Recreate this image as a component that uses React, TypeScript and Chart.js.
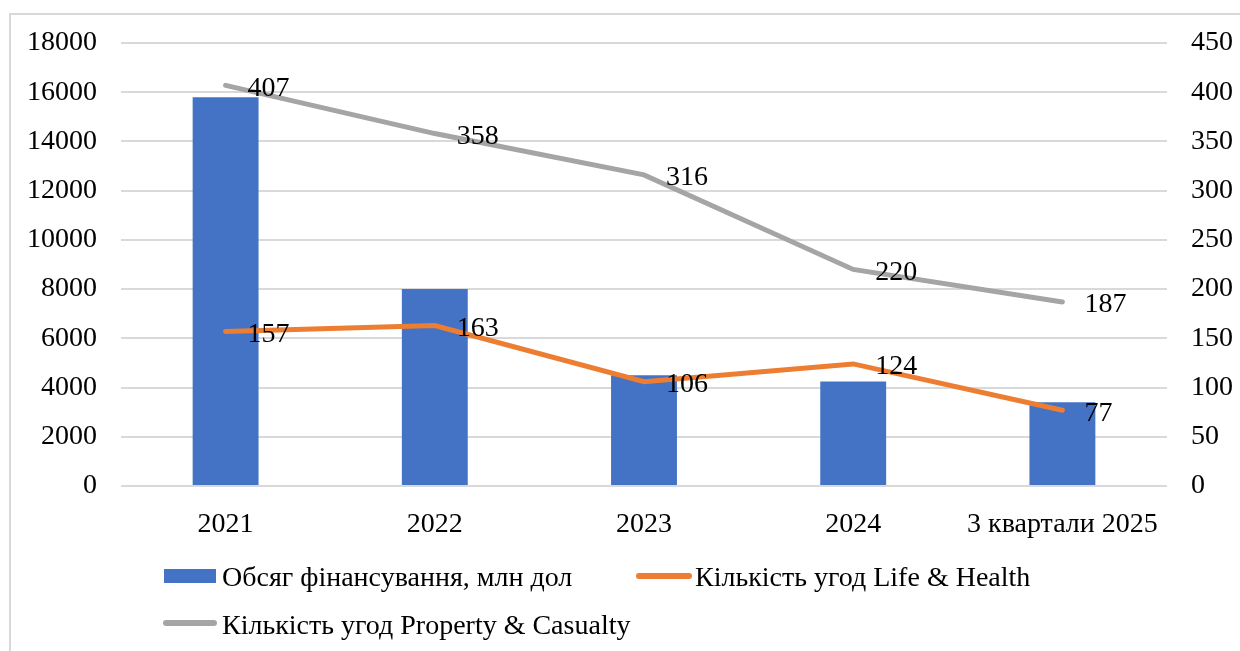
import React, { useEffect, useRef } from "react";
import { Chart, registerables } from "chart.js";

Chart.register(...registerables);

const categories = ["2021", "2022", "2023", "2024", "3 квартали 2025"];
const fundingValues = [15800, 8000, 4500, 4250, 3400];
const lifeHealthDeals = [157, 163, 106, 124, 77];
const propertyCasualtyDeals = [407, 358, 316, 220, 187];
const leftTicks = { min: 0, max: 18000, step: 2000 };
const rightTicks = { min: 0, max: 450, step: 50 };

const seriesNames = [
  "Обсяг фінансування, млн дол",
  "Кількість угод Life & Health",
  "Кількість угод Property & Casualty",
];

const FONT = "'Liberation Serif', 'Times New Roman', serif";
const FS = 28;
const BLUE = "#4472C4";
const ORANGE = "#ED7D31";
const GRAY = "#A5A5A5";

const labelPlugin = {
  id: "lineLabels",
  afterDatasetsDraw(chart: any) {
    const ctx = chart.ctx;
    ctx.save();
    ctx.font = `${FS}px ${FONT}`;
    ctx.fillStyle = "#000";
    ctx.textAlign = "left";
    ctx.textBaseline = "middle";
    chart.data.datasets.forEach((ds: any, i: number) => {
      if (ds.type !== "line") return;
      const meta = chart.getDatasetMeta(i);
      meta.data.forEach((pt: any, j: number) => {
        ctx.fillText(String(ds.data[j]), pt.x + 22, pt.y + 3);
      });
    });
    ctx.restore();
  },
};

export default function App() {
  const ref = useRef<HTMLCanvasElement>(null);
  useEffect(() => {
    if (!ref.current) return;
    const chart = new Chart(ref.current, {
      type: "bar",
      data: {
        labels: categories,
        datasets: [
          {
            type: "bar",
            label: seriesNames[0],
            data: fundingValues,
            backgroundColor: BLUE,
            yAxisID: "y",
            order: 3,
            categoryPercentage: 1,
            barPercentage: 0.315,
          },
          {
            type: "line",
            label: seriesNames[1],
            data: lifeHealthDeals,
            borderColor: ORANGE,
            backgroundColor: ORANGE,
            borderWidth: 5,
            pointRadius: 0,
            yAxisID: "y1",
            order: 1,
            borderCapStyle: "round",
          },
          {
            type: "line",
            label: seriesNames[2],
            data: propertyCasualtyDeals,
            borderColor: GRAY,
            backgroundColor: GRAY,
            borderWidth: 5,
            pointRadius: 0,
            yAxisID: "y1",
            order: 2,
            borderCapStyle: "round",
          },
        ] as any,
      },
      options: {
        responsive: false,
        animation: false,
        layout: { padding: { top: 43, left: 0, right: 0, bottom: 0 } },
        plugins: { legend: { display: false }, tooltip: { enabled: false } },
        scales: {
          x: {
            grid: { display: false },
            border: { display: false },
            ticks: { color: "#000", font: { family: FONT, size: FS }, padding: 14, maxRotation: 0 },
            afterFit: (s: any) => { s.height = 165; },
          },
          y: {
            position: "left",
            min: leftTicks.min,
            max: leftTicks.max,
            ticks: {
              stepSize: leftTicks.step,
              color: "#000",
              font: { family: FONT, size: FS },
              padding: 24,
              callback: (v: any) => String(v),
            },
            grid: { color: "#D9D9D9", lineWidth: 2, drawTicks: false },
            border: { display: false },
            afterFit: (s: any) => { s.width = 121; },
          },
          y1: {
            position: "right",
            min: rightTicks.min,
            max: rightTicks.max,
            ticks: {
              stepSize: rightTicks.step,
              color: "#000",
              font: { family: FONT, size: FS },
              padding: 24,
              callback: (v: any) => String(v),
            },
            grid: { display: false, drawTicks: false },
            border: { display: false },
            afterFit: (s: any) => { s.width = 73; },
          },
        },
      } as any,
      plugins: [labelPlugin],
    });
    return () => chart.destroy();
  }, []);

  const textStyle: React.CSSProperties = {
    position: "absolute",
    fontFamily: FONT,
    fontSize: FS,
    lineHeight: "30px",
    color: "#000",
    whiteSpace: "nowrap",
  };

  return (
    <div style={{ position: "absolute", left: 0, top: 0, width: 1240, height: 651, overflow: "hidden", background: "#fff" }}>
      <div style={{ position: "absolute", left: 9, top: 13, width: 1260, height: 700, border: "2px solid #D9D9D9" }} />
      <canvas ref={ref} width={1240} height={651} style={{ position: "absolute", left: 0, top: 0 }} />
      <div style={{ position: "absolute", left: 164, top: 569, width: 52, height: 14, background: BLUE }} />
      <div style={{ ...textStyle, left: 222, top: 562 }}>{seriesNames[0]}</div>
      <div style={{ position: "absolute", left: 636, top: 573, width: 56, height: 6, borderRadius: 3, background: ORANGE }} />
      <div style={{ ...textStyle, left: 695, top: 562 }}>{seriesNames[1]}</div>
      <div style={{ position: "absolute", left: 163, top: 620, width: 54, height: 6, borderRadius: 3, background: GRAY }} />
      <div style={{ ...textStyle, left: 222, top: 610 }}>{seriesNames[2]}</div>
    </div>
  );
}
